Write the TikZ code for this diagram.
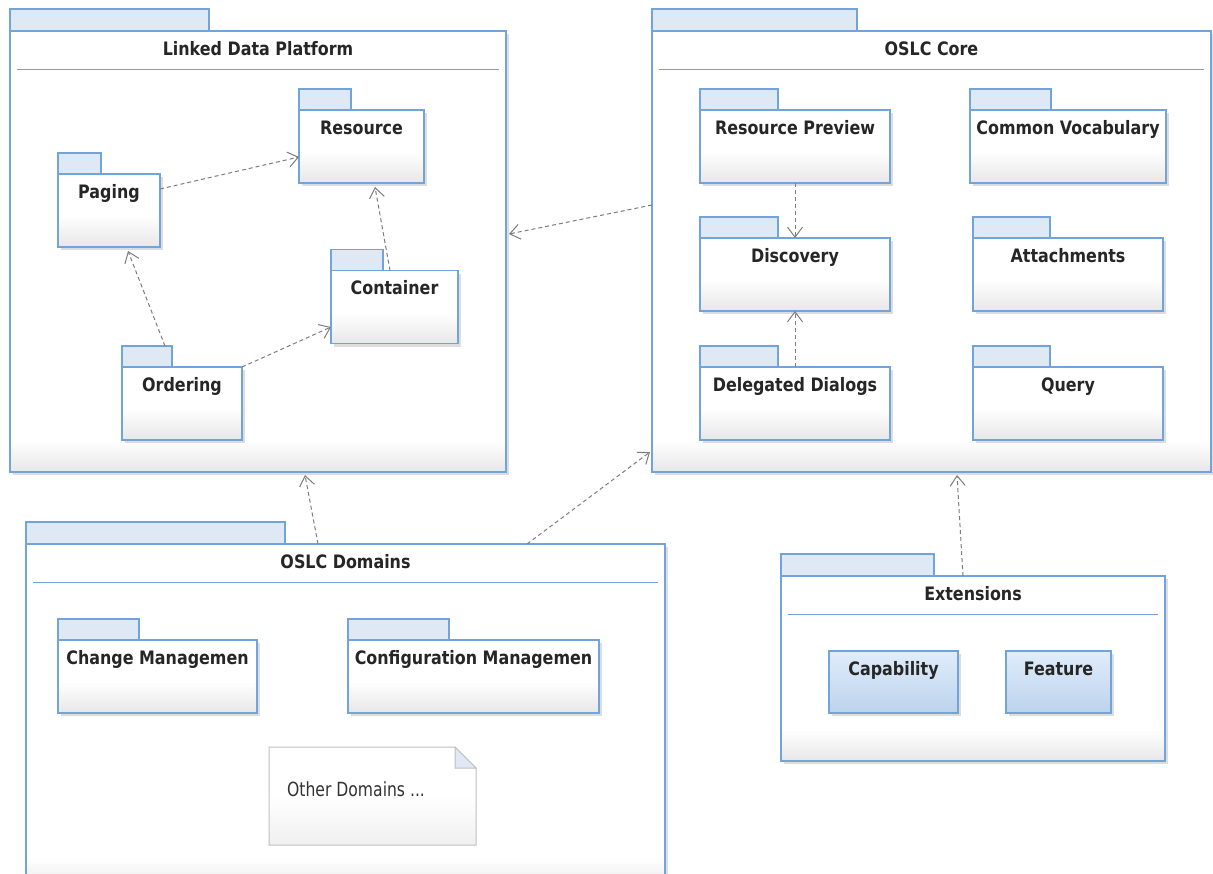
\documentclass[tikz,border=0pt]{standalone}
\usepackage{fontspec}
\usetikzlibrary{arrows.meta,shadows}
\newfontfamily\uifont{DejaVu Sans}[FakeStretch=0.86]
\newfontfamily\notefont{DejaVu Sans}[FakeStretch=0.8]

\definecolor{umlblue}{RGB}{114,164,220}
\definecolor{tabfill}{RGB}{222,233,245}
\definecolor{clstop}{RGB}{224,237,251}
\definecolor{clsbot}{RGB}{188,211,236}
\definecolor{depgray}{RGB}{125,125,125}
\definecolor{notegray}{RGB}{192,192,192}

% grey gradient at the bottom of a box, drawn in thin strips
\newcommand\boxfoot[1]{%
  \foreach \k [evaluate=\k as \p using #1*(16-\k), evaluate=\k as \ya using 2*\k, evaluate=\k as \yb using 2*\k-2] in {1,...,15}
    \fill[black!\p] ([yshift=\ya pt]path picture bounding box.south west) rectangle ([yshift=\yb pt]path picture bounding box.south east);}

\tikzset{
  pkgfont/.style={font=\uifont\bfseries\fontsize{18.5}{20}\selectfont, text=black!85, inner sep=0pt},
  umlshadow/.style={drop shadow={shadow xshift=3pt, shadow yshift=-3pt, fill=black!60, opacity=0.22}},
  % package body, centred title
  pkg/.style={draw=umlblue, line width=1.2pt, fill=white, inner sep=0pt, outer sep=0pt, umlshadow,
    path picture={
      \boxfoot{0.6}
      \node[pkgfont, anchor=base] at ([yshift=-24pt]path picture bounding box.north) {#1};
    }},
  % package body, title too long: starts at the left and is cut off
  pkgcut/.style={draw=umlblue, line width=1.2pt, fill=white, inner sep=0pt, outer sep=0pt, umlshadow,
    path picture={
      \boxfoot{0.6}
      \node[pkgfont, anchor=base west] at ([yshift=-24pt]path picture bounding box.north west) {#1};
    }},
  % big package with rule under title
  bigpkg/.style={draw=umlblue, line width=1.2pt, fill=white, inner sep=0pt, outer sep=0pt, umlshadow,
    path picture={
      \boxfoot{0.6}
      \node[pkgfont, anchor=base] at ([yshift=-24pt]path picture bounding box.north) {#1};
      \draw[umlblue, line width=1pt] ([xshift=7pt, yshift=-38pt]path picture bounding box.north west) -- ([xshift=-7pt, yshift=-38pt]path picture bounding box.north east);
    }},
  cls/.style={draw=umlblue, line width=1.2pt, top color=clstop, bottom color=clsbot, inner sep=0pt, outer sep=0pt, umlshadow,
    path picture={
      \node[pkgfont, anchor=base] at ([yshift=-24pt]path picture bounding box.north) {#1};
    }},
  pkgtab/.style={draw=umlblue, line width=1.2pt, fill=tabfill},
  dep/.style={depgray, line width=1pt, dash pattern=on 4pt off 3pt, -{Straight Barb[length=10pt, width=15pt]}},
}

\begin{document}
\begin{tikzpicture}[x=1pt, y=-1pt]
\useasboundingbox (0,0) rectangle (1213,873);
\fill[white] (0,0) rectangle (1213,873);
\clip (0,0) rectangle (1213,873);

% outer packages
\node[bigpkg={Linked Data Platform}, minimum width=496, minimum height=441] (ldp) at (258,251.5) {};
\node[bigpkg={OSLC Core}, minimum width=559, minimum height=441] (core) at (931.5,251.5) {};
\node[bigpkg={OSLC Domains}, minimum width=639, minimum height=346] (domains) at (345.5,717) {};
\node[bigpkg={Extensions}, minimum width=384, minimum height=185] (ext) at (973,668.5) {};

% Linked Data Platform
\node[pkg={Resource}, minimum width=125, minimum height=73] (resource) at (361.5,146.5) {};
\node[pkg={Paging}, minimum width=102, minimum height=73] (paging) at (109,210.5) {};
\node[pkg={Container}, minimum width=127, minimum height=73] (container) at (394.5,307) {};
\node[pkg={Ordering}, minimum width=120, minimum height=73] (ordering) at (182,403.5) {};

% OSLC Core
\node[pkg={Resource Preview}, minimum width=190, minimum height=73] (preview) at (795,146.5) {};
\node[pkgcut={Common Vocabulary}, minimum width=196, minimum height=73] (vocab) at (1068,146.5) {};
\node[pkg={Discovery}, minimum width=190, minimum height=73] (discovery) at (795,274.5) {};
\node[pkg={Attachments}, minimum width=190, minimum height=73] (attach) at (1068,274.5) {};
\node[pkg={Delegated Dialogs}, minimum width=190, minimum height=73] (dialogs) at (795,403.5) {};
\node[pkg={Query}, minimum width=190, minimum height=73] (query) at (1068,403.5) {};

% OSLC Domains
\node[pkgcut={Change Managemen}, minimum width=199, minimum height=73] (changemgmt) at (157.5,676.5) {};
\node[pkgcut={Configuration Managemen}, minimum width=251, minimum height=73] (configmgmt) at (473.5,676.5) {};

% note
\node[minimum width=207, minimum height=98, inner sep=0pt, outer sep=0pt] (note) at (372.5,796) {};
\shade[draw=notegray, line width=1pt, top color=white, bottom color=black!6, middle color=white]
  (note.north west) -- ([xshift=-21pt]note.north east) -- ([yshift=-21pt]note.north east)
  -- (note.south east) -- (note.south west) -- cycle;
\draw[draw=notegray, line width=1pt, fill=tabfill]
  ([xshift=-21pt]note.north east) -- ([xshift=-21pt, yshift=-21pt]note.north east) -- ([yshift=-21pt]note.north east) -- cycle;
\node[font=\notefont\fontsize{19.5}{21}\selectfont, text=black!80, anchor=base west, inner sep=0pt] (othertext)
  at ([xshift=18pt, yshift=-49pt]note.north west) {Other Domains ...};

% Extensions
\node[cls={Capability}, minimum width=129, minimum height=62] (capability) at (893.5,682) {};
\node[cls={Feature}, minimum width=105, minimum height=62] (feature) at (1058.5,682) {};

% tabs
\foreach \n/\w/\h in {ldp/199/22, core/205/22, domains/259/22, ext/153/22,
    resource/52/21, paging/43/21, container/52/21, ordering/50/21,
    preview/78/21, vocab/81/21, discovery/78/21, attach/77/21, dialogs/78/21, query/77/21,
    changemgmt/81/21, configmgmt/101/21}
  \draw[pkgtab] (\n.north west) rectangle ++(\w,-\h);

% dependencies
\path[dep] ([yshift=21.5pt]paging.east) edge ([yshift=-10.5pt]resource.west)
  ([xshift=-4.5pt]container.north) edge ([xshift=13.5pt, yshift=-4pt]resource.south)
  ([xshift=-17pt, yshift=21pt]ordering.north) edge ([xshift=19pt, yshift=-4pt]paging.south)
  (ordering.north east) edge ([yshift=-20pt]container.west)
  (preview.south) edge (discovery.north)
  (dialogs.north) edge (discovery.south)
  ([yshift=46.5pt]core.west) edge ([xshift=3pt, yshift=17.5pt]ldp.east)
  ([xshift=-27.5pt]domains.north) edge ([xshift=47pt, yshift=-3pt]ldp.south)
  ([xshift=181.5pt]domains.north) edge ([xshift=-2pt, yshift=-200.5pt]core.west)
  ([xshift=-10pt]ext.north) edge ([xshift=25.5pt, yshift=-3pt]core.south);
\end{tikzpicture}
\end{document}
